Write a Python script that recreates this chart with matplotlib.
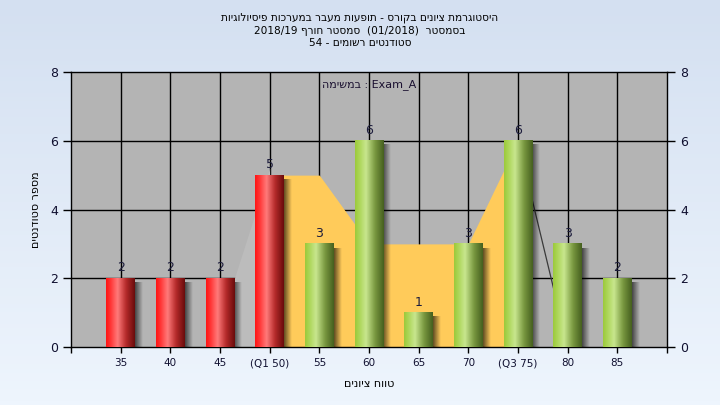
import re
import numpy as np
import matplotlib
matplotlib.use('Agg')
import matplotlib.pyplot as plt
from matplotlib.colors import LinearSegmentedColormap

# data
grades = ['35', '40', '45', '(Q1 50)', '55', '60', '65', '70', '(Q3 75)', '80', '85']
counts = [2, 2, 2, 5, 3, 6, 1, 3, 6, 3, 2]
q1_idx = 3
q3_idx = 8
# yellow band between Q1 and Q3
band_vals = [5, 5, 3, 3, 3, 6]

title_lines = ['היסטוגרמת ציונים בקורס - תופעות מעבר במערכות פיסיולוגיות',
               'בסמסטר  (01/2018)  סמסטר חורף 2018/19',
               'סטודנטים רשומים - 54']
task_text = 'Exam_A : במשימה'
xlab = 'טווח ציונים'
ylab = 'מספר סטודנטים'


def rtl(s):
    # matplotlib has no bidi, so put the string in visual order
    mirror = {'(': ')', ')': '('}
    toks = re.findall(r'[A-Za-z0-9_/.]+|.', s)
    return ''.join(mirror.get(t, t) for t in reversed(toks))


fig = plt.figure(figsize=(7.2, 4.05), dpi=100)

# light blue gradient background
bg = fig.add_axes([0, 0, 1, 1], zorder=-10)
bgcm = LinearSegmentedColormap.from_list('bg', ['#d4e0f1', '#eef5fd'])
bg.imshow(np.linspace(0, 1, 100).reshape(-1, 1), aspect='auto', cmap=bgcm,
          extent=[0, 1, 0, 1])
bg.axis('off')

ax = fig.add_axes([71 / 720, 1 - 347 / 405, 596 / 720, 275 / 405])
ax.set_facecolor('#b4b4b4')

x = np.arange(len(grades))
w = 0.58

# grid
for gy in [2, 4, 6]:
    ax.axhline(gy, color='black', lw=1, zorder=0.5)
for gx in x:
    ax.axvline(gx, color='black', lw=1, zorder=0.5)

# lighter wedge between 45 and Q1, line after Q3
ax.fill_between([x[2] + w / 2, x[q1_idx]], [counts[2], counts[q1_idx] + 0.2],
                color='#bcbcbc', lw=0, zorder=1)
ax.plot([x[q3_idx], x[q3_idx + 1]], [counts[q3_idx], 0], color='#3a3a3a',
        lw=0.9, zorder=1.2)
ax.fill_between(x[q1_idx:q3_idx + 1], band_vals, color='#ffcb5a', lw=0, zorder=1.5)

red = LinearSegmentedColormap.from_list('r', [(0, '#ff1515'), (0.15, '#ff3535'),
                                              (0.4, '#ff7a7a'), (0.7, '#b42a2a'),
                                              (1, '#6a0c0c')])
green = LinearSegmentedColormap.from_list('g', [(0, '#9cca3c'), (0.12, '#a9d452'),
                                                (0.38, '#c8e68e'), (0.7, '#78973f'),
                                                (1, '#46601f')])
grad = np.linspace(0, 1, 64).reshape(1, -1)

# shadow: black fading to the right
sh = np.zeros((1, 32, 4))
sh[..., 3] = np.linspace(0.7, 0.0, 32)

for i, c in enumerate(counts):
    cm = red if i <= q1_idx else green
    ax.imshow(sh, extent=[x[i] + w / 2 - 0.02, x[i] + w / 2 + 0.16, -0.06, c - 0.12],
              aspect='auto', zorder=2.5, interpolation='bilinear')
    ax.imshow(grad, extent=[x[i] - w / 2, x[i] + w / 2, 0, c], aspect='auto',
              cmap=cm, zorder=3, interpolation='bilinear')
    ax.text(x[i], c + 0.12, str(c), ha='center', va='bottom', fontsize=9,
            color='#1c1c3c', zorder=4)

ax.set_xlim(-1, 11)
ax.set_ylim(0, 8)
ax.set_xticks(x)
ax.set_xticks([-1, 11], minor=True)
ax.set_xticklabels(grades, fontsize=7.5, color='#101030')
ax.set_yticks(range(0, 9, 2))
ax.tick_params(axis='y', labelsize=9, colors='black', labelcolor='#101030',
               length=6, width=1, right=True, labelright=True)
ax.tick_params(axis='x', which='both', length=4, width=1, pad=4)
for sp in ax.spines.values():
    sp.set_color('black')
    sp.set_linewidth(1)

ax.set_xlabel(rtl(xlab), fontsize=8, labelpad=8)
ax.set_ylabel(rtl(ylab), fontsize=8, labelpad=6)

ax.text(0.5, 0.953, rtl(task_text), transform=ax.transAxes, ha='center',
        va='center', fontsize=8, color='#1a1030')

for k, line in enumerate(title_lines):
    fig.text(0.5, 1 - (18 + 12.5 * k) / 405, rtl(line), ha='center', va='center',
             fontsize=7.6)

fig.savefig('out.png', dpi=100)
